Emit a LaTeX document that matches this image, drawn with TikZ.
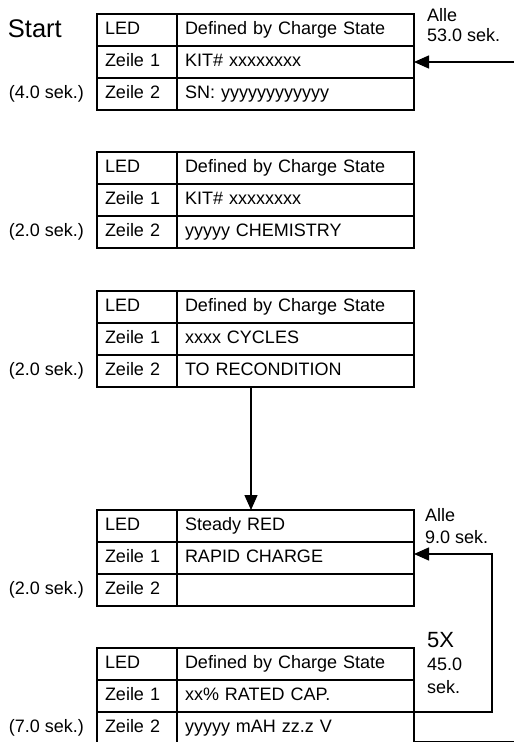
\documentclass[tikz,border=0pt]{standalone}
\usepackage{fontspec}
\setmainfont{Liberation Sans}
\usetikzlibrary{positioning,arrows.meta}

% one LED display table: name, top left corner, LED text, Zeile 1, Zeile 2
\newcommand{\ledtable}[5]{%
  \node[keycell, anchor=north west] (#1led) at (#2) {LED};
  \node[valcell, right=0pt of #1led] (#1ledv) {#3};
  \node[keycell, below=0pt of #1led] (#1za) {Zeile 1};
  \node[valcell, right=0pt of #1za] (#1zav) {#4};
  \node[keycell, below=0pt of #1za] (#1zb) {Zeile 2};
  \node[valcell, right=0pt of #1zb] (#1zbv) {#5};
}

\begin{document}
\begin{tikzpicture}[x=1pt, y=-1pt, font=\fontsize{18}{21}\selectfont,
  keycell/.style={draw, line width=1.7pt, shape=rectangle, outer sep=0pt, inner xsep=8pt,
    text width=64pt, minimum height=32pt, text height=13pt, text depth=4pt, align=left},
  valcell/.style={keycell, text width=221pt},
  timelabel/.style={inner sep=0pt, anchor=base east},
  sidelabel/.style={inner sep=0pt, anchor=north west, align=left},
  flow/.style={line width=1.4pt, -{Triangle[length=15pt,width=13pt]}}]

      \clip (0,0) rectangle (514,742);

      \ledtable{t1}{97,14}{Defined by Charge State}{KIT\# xxxxxxxx}{SN: yyyyyyyyyyyy}
      \ledtable{t2}{97,152}{Defined by Charge State}{KIT\# xxxxxxxx}{yyyyy CHEMISTRY}
      \ledtable{t3}{97,291}{Defined by Charge State}{xxxx CYCLES}{TO RECONDITION}
      \ledtable{t4}{97,510}{Steady RED}{RAPID CHARGE}{}
      \ledtable{t5}{97,648}{Defined by Charge State}{xx\% RATED CAP.}{yyyyy mAH zz.z V}

      \node[left=35pt of t1led.base west, anchor=base east, yshift=-3pt, inner sep=0pt,
        font=\fontsize{25.5}{28}\selectfont] (start) {Start};

      \node[timelabel, left=13pt of t1zb.base west, anchor=base east] (time1) {(4.0 sek.)};
      \node[timelabel, left=13pt of t2zb.base west, anchor=base east] (time2) {(2.0 sek.)};
      \node[timelabel, left=13pt of t3zb.base west, anchor=base east] (time3) {(2.0 sek.)};
      \node[timelabel, left=13pt of t4zb.base west, anchor=base east] (time4) {(2.0 sek.)};
      \node[timelabel, left=13pt of t5zb.base west, anchor=base east] (time5) {(7.0 sek.)};

      \node[sidelabel, right=13pt of t1ledv.north east, anchor=north west, yshift=5.7pt,
        font=\fontsize{18}{20}\selectfont] (every53) {Alle\\53.0 sek.};
      \node[sidelabel, right=11pt of t4ledv.north east, anchor=north west, yshift=1.7pt,
        font=\fontsize{18}{21.7}\selectfont] (every9) {Alle\\9.0 sek.};
      \node[sidelabel, right=13pt of t5ledv.north east, anchor=north west, yshift=16pt,
        font=\fontsize{18}{23.3}\selectfont] (five) {{\fontsize{22}{23.3}\selectfont 5X}\\45.0\\sek.};

      \coordinate[right=100pt of t1zav.east] (in53);
      \coordinate (cut) at (514,741.5);

      \draw[flow] (in53) -- (t1zav.east);
      \draw[flow] ([xshift=74pt]t3zbv.south west) -- ([xshift=74pt]t4ledv.north west);
      \draw[flow] (t5zbv.north east) -- ++(78,0) |- ([yshift=4pt]t4zav.east);
      \draw[line width=1.4pt] (t5zbv.east |- cut) -- (cut);
\end{tikzpicture}
\end{document}
